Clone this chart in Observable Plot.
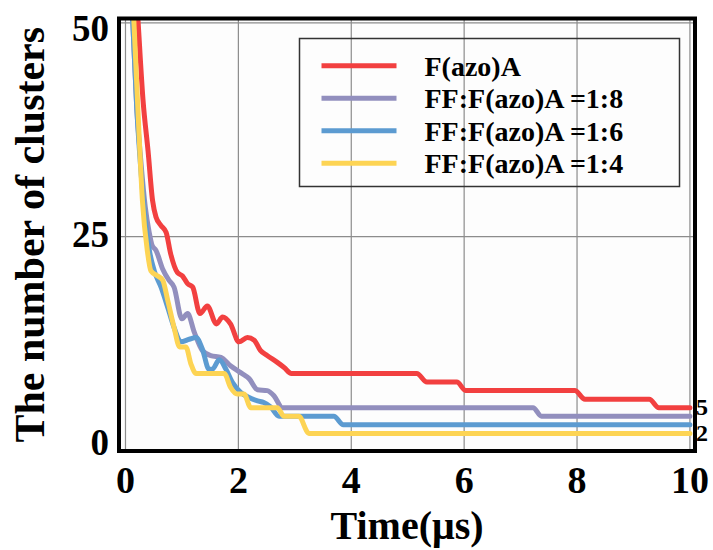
<!DOCTYPE html>
<html><head><meta charset="utf-8">
<script src="https://cdn.jsdelivr.net/npm/d3@7"></script>
<script src="https://cdn.jsdelivr.net/npm/@observablehq/plot@0.6"></script>
<style>
body{margin:0;background:#fff;}
#wrap{position:relative;width:713px;height:550px;}
</style></head><body><div id="wrap"></div>
<script>
const seriesNames = ["F(azo)A", "FF:F(azo)A =1:8", "FF:F(azo)A =1:6", "FF:F(azo)A =1:4"];
const seriesColors = ["#f24040", "#928fbe", "#5c9bd1", "#fdd454"];

const redT = [0.15, 0.22, 0.31, 0.40, 0.48, 0.54, 0.63, 0.72, 0.80, 0.92, 1.01, 1.10, 1.19, 1.32, 1.45, 1.61, 1.72, 1.86, 2.01, 2.16, 2.28, 2.39, 2.51, 2.69, 2.81, 2.94, 5.16, 5.34, 5.87, 6.03, 7.96, 8.14, 9.28, 9.45, 10.0];
const redV = [58, 50.5, 41, 35, 29.2, 27.3, 26.3, 25.5, 23.0, 20.8, 20.4, 19.5, 19.1, 16.0, 16.9, 14.8, 15.6, 14.8, 12.7, 13.2, 12.9, 11.7, 11.1, 10.3, 9.7, 9, 9, 8, 8, 7, 7, 6, 6, 5, 5];

const purT = [0.08, 0.13, 0.20, 0.27, 0.35, 0.42, 0.47, 0.54, 0.66, 0.77, 0.86, 1.00, 1.10, 1.22, 1.36, 1.51, 1.69, 1.86, 2.04, 2.19, 2.34, 2.51, 2.63, 2.78, 7.22, 7.37, 10.0];
const purV = [57, 50, 40, 34, 28.5, 25.5, 24.0, 23.4, 21.2, 19.9, 19.1, 15.4, 16.0, 13.8, 11.7, 11.1, 10.9, 9.9, 9.1, 8.4, 7.1, 7.0, 6.4, 5, 5, 4, 4];

const bluT = [0.08, 0.13, 0.20, 0.27, 0.35, 0.42, 0.51, 0.63, 0.75, 0.86, 0.98, 1.13, 1.25, 1.36, 1.48, 1.54, 1.66, 1.78, 1.89, 2.04, 2.19, 2.34, 2.45, 2.57, 2.72, 3.69, 3.86, 10.0];
const bluV = [57, 50, 40, 33, 27, 23.5, 21.0, 19.1, 16.7, 14.4, 12.7, 13.0, 13.2, 11.9, 9.5, 9.5, 10.6, 9.5, 8.0, 6.8, 6.2, 5.8, 5.6, 5.1, 4, 4, 3, 3];

const yelT = [0.10, 0.15, 0.24, 0.30, 0.39, 0.45, 0.57, 0.66, 0.75, 0.86, 0.96, 1.07, 1.16, 1.25, 1.75, 1.86, 1.98, 2.10, 2.22, 2.69, 2.81, 3.07, 3.25, 10.0];
const yelV = [57, 50, 37, 29.2, 23.2, 21.0, 20.4, 19.9, 17.5, 14.4, 12.1, 12.1, 10.1, 9.0, 9.0, 7.4, 6.6, 6.6, 5, 5, 4, 4, 2, 2];

const xTicks = [0, 2, 4, 6, 8, 10];
const yTicks = [0, 25, 50];
const endTicks = [5, 2];
const xTitle = "Time(μs)";
const yTitle = "The number of clusters";

const rows = [];
[[redT, redV], [purT, purV], [bluT, bluV], [yelT, yelV]].forEach(([ts, vs], i) =>
  ts.forEach((t, j) => rows.push({t, v: vs[j], s: seriesNames[i]})));

const font = '"Liberation Serif","Times New Roman",serif';
const chart = Plot.plot({
  width: 713, height: 550,
  marginLeft: 118.5, marginRight: 18.5, marginTop: 18, marginBottom: 99.5,
  style: {fontFamily: font, fontWeight: "bold", background: "transparent", color: "#000", overflow: "visible"},
  x: {domain: [-0.115, 10.09], label: null},
  y: {domain: [-0.06, 50.5], label: null},
  color: {domain: seriesNames, range: seriesColors},
  marks: [
    Plot.frame({fill: "#fdfdfd", stroke: null}),
    Plot.gridX(xTicks, {stroke: "#8c8c8c", strokeOpacity: 1, strokeWidth: 1.2}),
    Plot.gridY(yTicks, {stroke: "#8c8c8c", strokeOpacity: 1, strokeWidth: 1.2}),
    Plot.line(rows, {x: "t", y: "v", z: "s", stroke: "s", strokeWidth: 5, curve: "monotone-x", clip: true, strokeLinecap: "round", strokeLinejoin: "round"}),
    Plot.axisX(xTicks, {tickSize: 0, tickPadding: 15, fontSize: 38, label: null}),
    Plot.axisY([50], {tickSize: 0, tickPadding: 10, fontSize: 37, dy: 6, label: null}),
    Plot.axisY([25], {tickSize: 0, tickPadding: 10, fontSize: 37, dy: -1, label: null}),
    Plot.axisY([0], {tickSize: 0, tickPadding: 10, fontSize: 37, dy: -7, label: null}),
    Plot.axisY(endTicks, {anchor: "right", tickSize: 0, tickPadding: 1, fontSize: 24, label: null}),
    Plot.text([xTitle], {text: d => d, frameAnchor: "bottom", dy: 75, fontSize: 40, lineAnchor: "middle"}),
    Plot.text([yTitle], {text: d => d, frameAnchor: "left", rotate: -90, dx: -88.5, fontSize: 42, lineAnchor: "middle", textAnchor: "middle"}),
    Plot.frame({stroke: "#000", strokeWidth: 4})
  ]
});
const wrap = document.getElementById("wrap");
wrap.appendChild(chart);

// legend overlay
const leg = d3.create("svg")
  .attr("width", 383).attr("height", 151)
  .style("position", "absolute").style("left", "297.5px").style("top", "36.5px")
  .style("font-family", font).style("font-weight", "bold");
leg.append("rect").attr("x", 1.5).attr("y", 1.5).attr("width", 380).attr("height", 148)
  .attr("fill", "none").attr("stroke", "#333").attr("stroke-width", 1.5);
seriesNames.forEach((n, i) => {
  const cy = 28.8 + i * 32.5;
  leg.append("line").attr("x1", 23.5).attr("x2", 98.5).attr("y1", cy).attr("y2", cy)
    .attr("stroke", seriesColors[i]).attr("stroke-width", 5);
  leg.append("text").attr("x", 126.5).attr("y", cy).attr("dy", "0.35em")
    .attr("font-size", 28).attr("fill", "#000").text(n);
});
wrap.appendChild(leg.node());
</script></body></html>
